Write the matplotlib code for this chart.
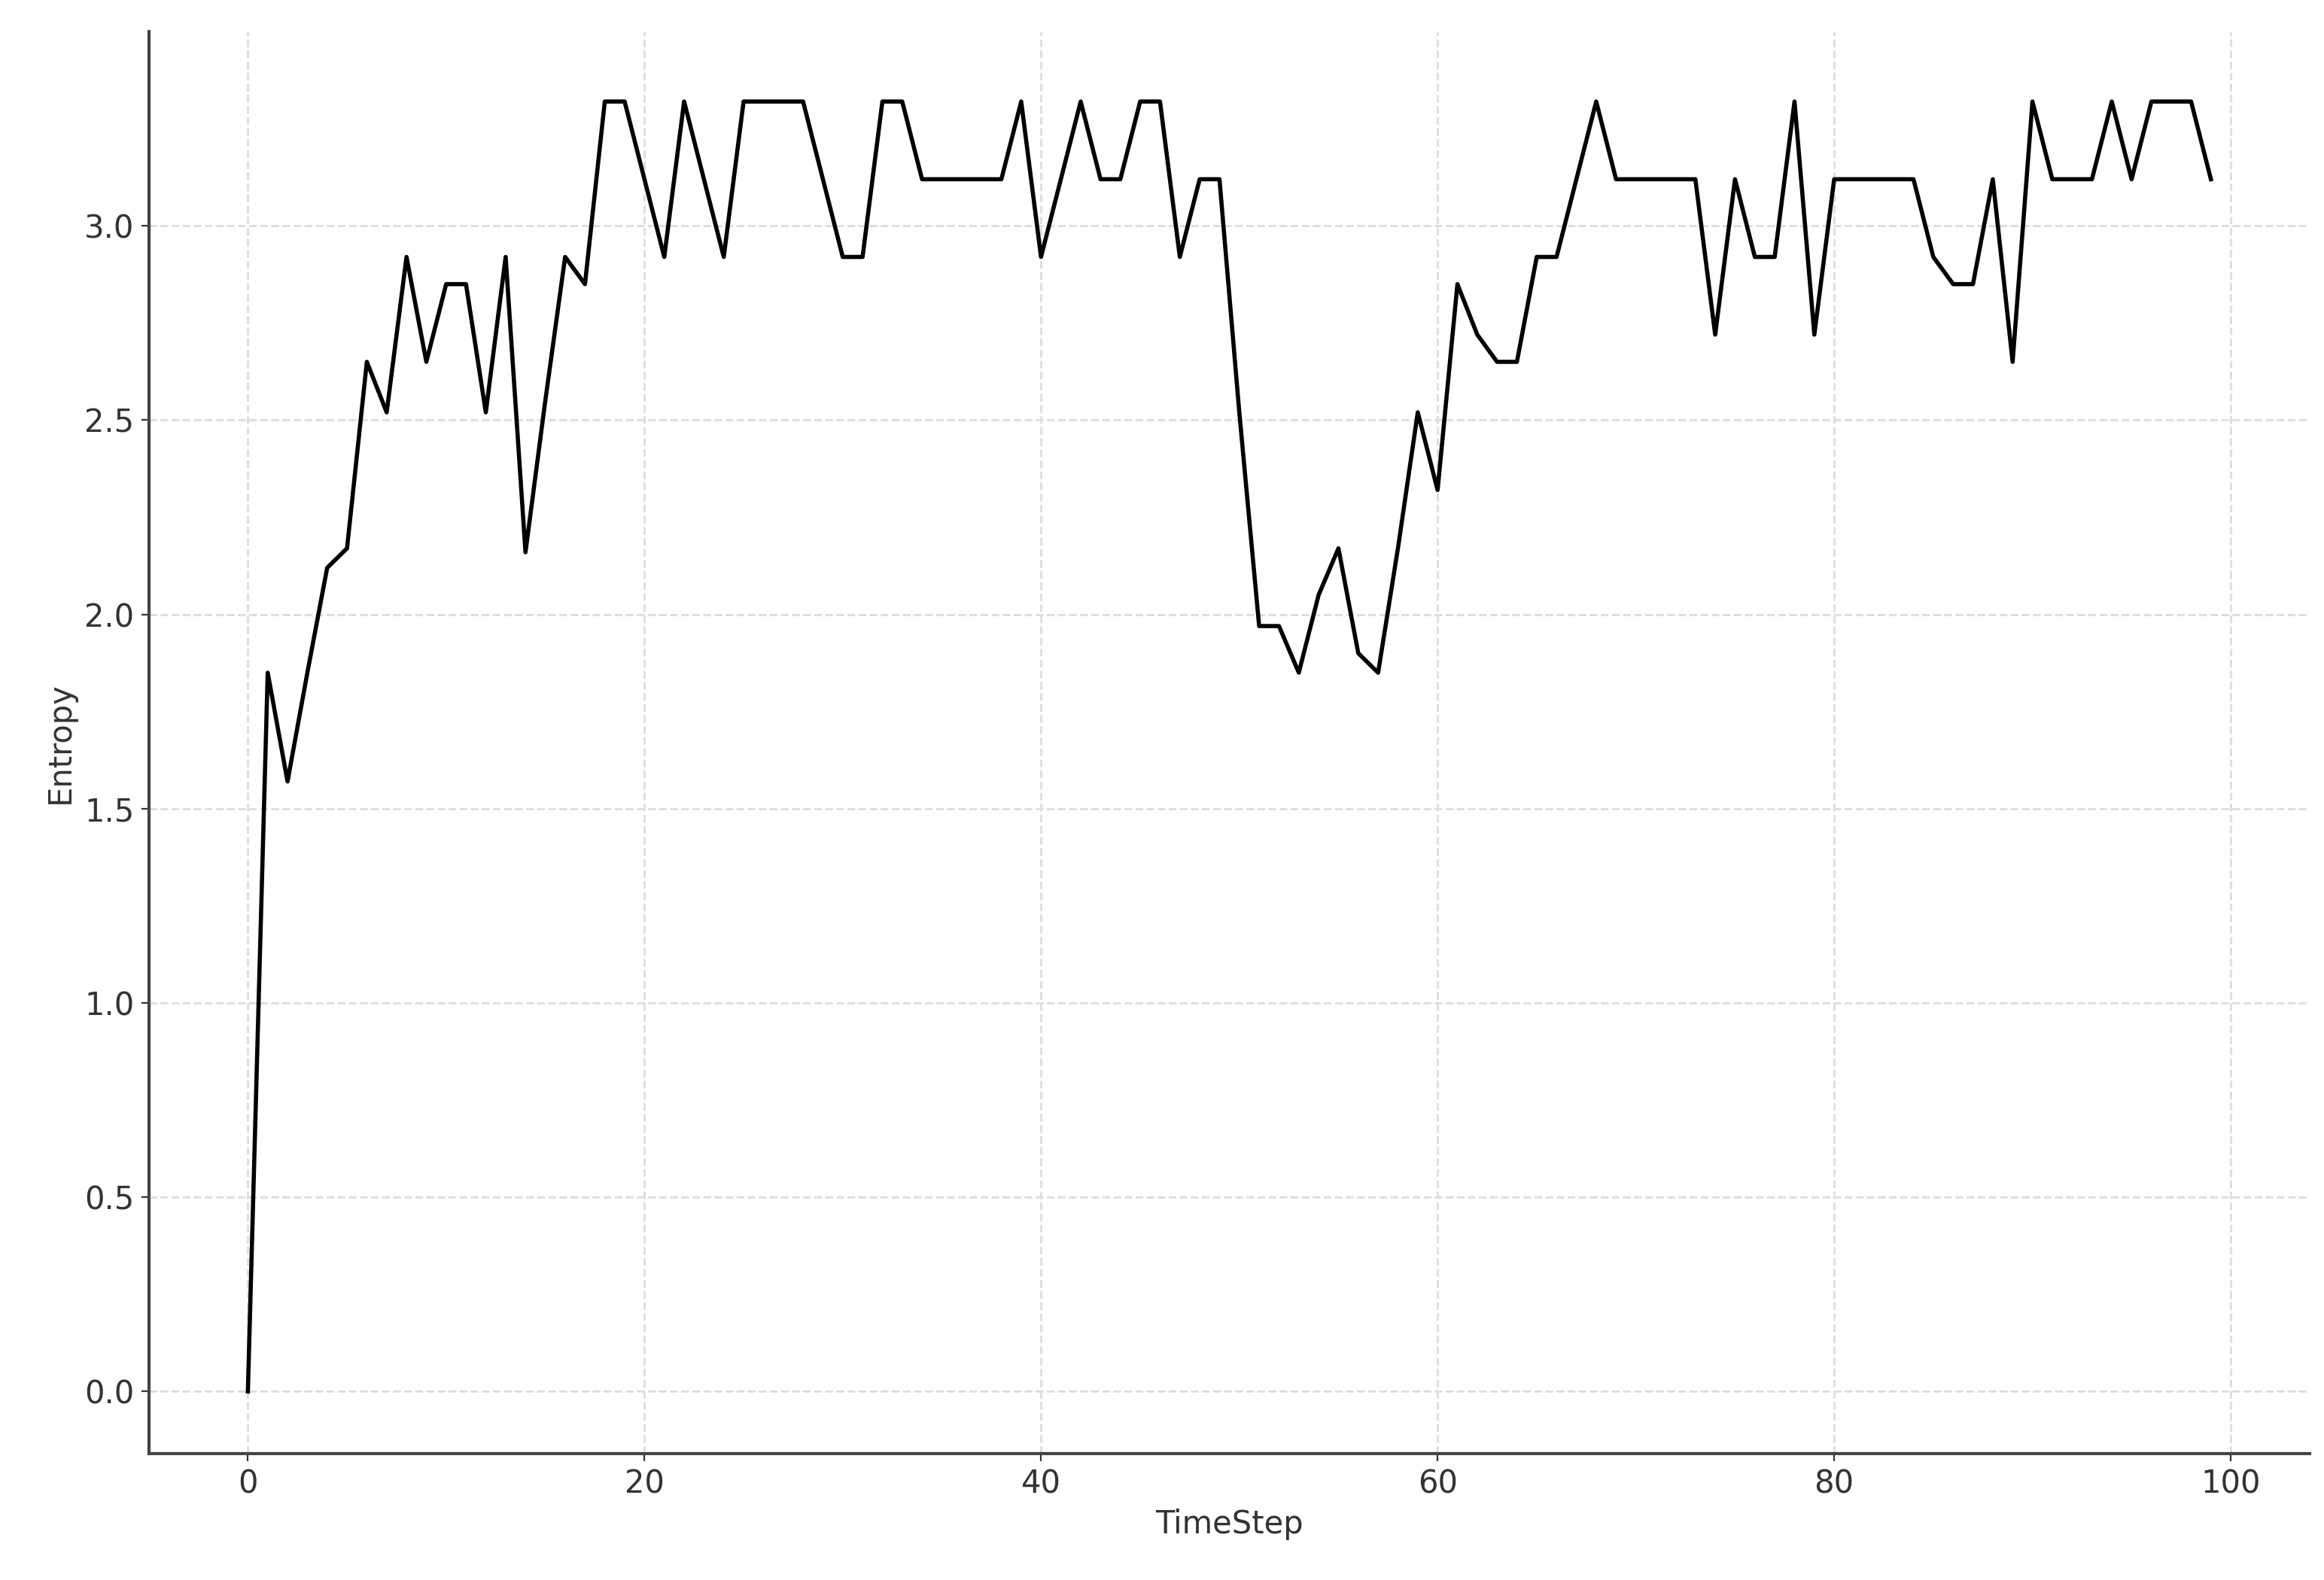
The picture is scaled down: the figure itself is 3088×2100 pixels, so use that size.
import numpy as np
import matplotlib.pyplot as plt

timestep = np.arange(100)
entropy = [0.0, 1.85, 1.57, 1.85, 2.12, 2.17, 2.65, 2.52, 2.92, 2.65,
           2.85, 2.85, 2.52, 2.92, 2.16, 2.55, 2.92, 2.85, 3.32, 3.32,
           3.12, 2.92, 3.32, 3.12, 2.92, 3.32, 3.32, 3.32, 3.32, 3.12,
           2.92, 2.92, 3.32, 3.32, 3.12, 3.12, 3.12, 3.12, 3.12, 3.32,
           2.92, 3.12, 3.32, 3.12, 3.12, 3.32, 3.32, 2.92, 3.12, 3.12,
           2.52, 1.97, 1.97, 1.85, 2.05, 2.17, 1.90, 1.85, 2.17, 2.52,
           2.32, 2.85, 2.72, 2.65, 2.65, 2.92, 2.92, 3.12, 3.32, 3.12,
           3.12, 3.12, 3.12, 3.12, 2.72, 3.12, 2.92, 2.92, 3.32, 2.72,
           3.12, 3.12, 3.12, 3.12, 3.12, 2.92, 2.85, 2.85, 3.12, 2.65,
           3.32, 3.12, 3.12, 3.12, 3.32, 3.12, 3.32, 3.32, 3.32, 3.12]

fig = plt.figure(figsize=(15.44, 10.5), dpi=200)
ax = fig.add_axes([0.064, 0.08, 0.93, 0.9])
ax.plot(timestep, entropy, color='black', linewidth=2)
ax.set_xlabel('TimeStep', fontsize=15, color='#333333')
ax.set_ylabel('Entropy', fontsize=15, color='#333333')
ax.set_xticks([0, 20, 40, 60, 80, 100])
ax.set_yticks(np.arange(0, 3.01, 0.5))
ax.set_xlim(-5, 104)
ax.set_ylim(-0.16, 3.5)
ax.tick_params(labelsize=15, colors='#333333')
ax.grid(True, linestyle='--', color='#dddddd', linewidth=1)
ax.spines['top'].set_visible(False)
ax.spines['right'].set_visible(False)
for s in ('left', 'bottom'):
    ax.spines[s].set_color('#444444')
    ax.spines[s].set_linewidth(1.5)

fig.savefig('out.png')
